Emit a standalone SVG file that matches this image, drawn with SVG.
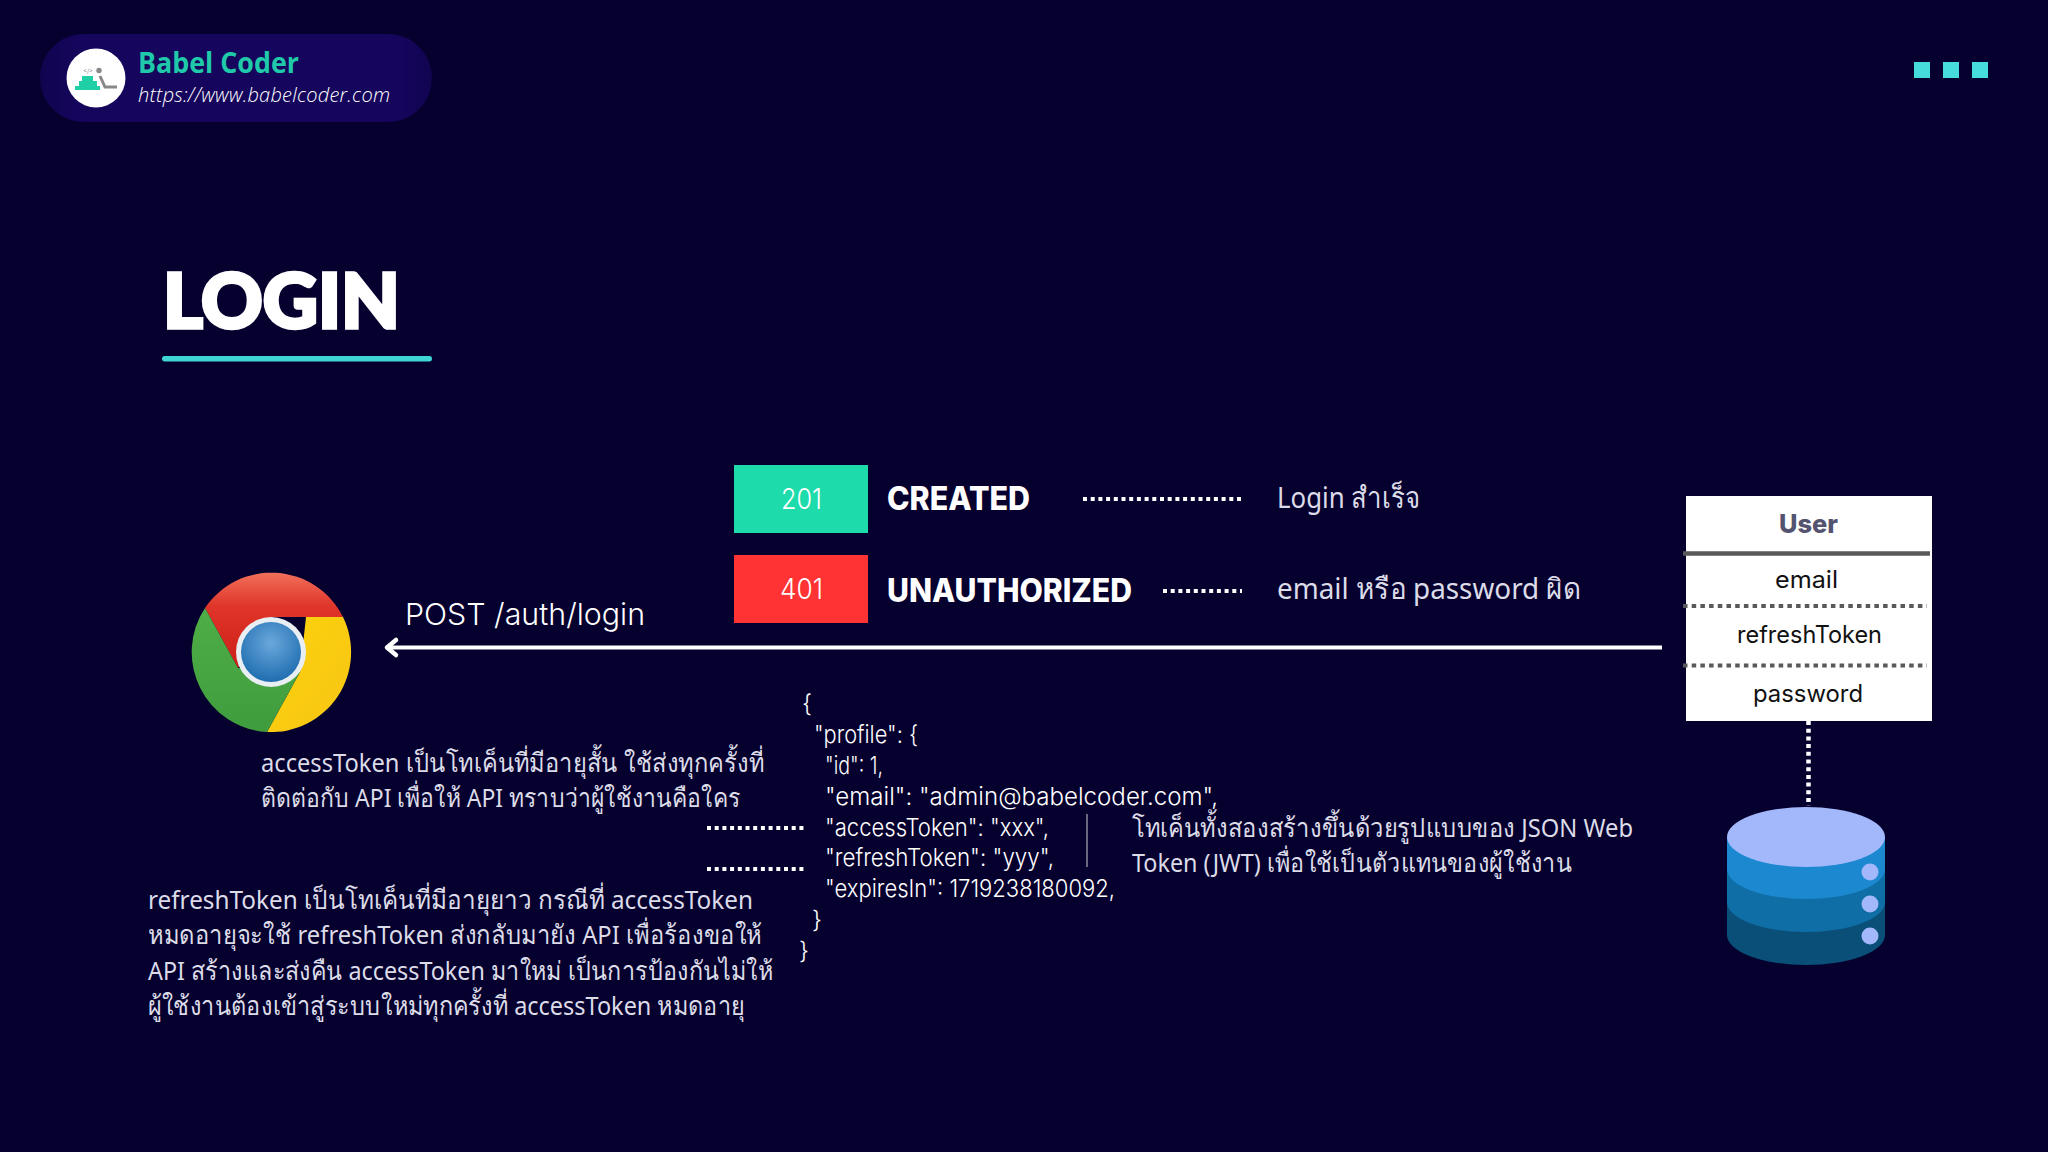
<svg xmlns="http://www.w3.org/2000/svg" width="2048" height="1152" viewBox="0 0 2048 1152">
<style>
text{font-family:"Inter","Noto Sans","Liberation Sans",sans-serif;fill:#fff}
.th{font-family:"Noto Sans","Open Sans","DejaVu Sans",sans-serif;font-size:26px;font-weight:400;fill:#dcdce8}
.js{font-size:24px;font-weight:300}
.st{font-weight:800;font-size:32px}
.code{font-size:28px;font-weight:300}
.tb{font-size:24px;font-weight:400;fill:#111}
.dot{stroke:#fff;stroke-width:4;stroke-dasharray:4 3.7;fill:none}
.tdot{stroke:#595959;stroke-width:4;stroke-dasharray:4.5 4.2;fill:none}
.sq{fill:#46dcdc}
</style>
<defs>
<radialGradient id="gb" cx=".5" cy=".35" r=".65"><stop offset="0" stop-color="#6aa8dc"/><stop offset="1" stop-color="#1f6db0"/></radialGradient>
<linearGradient id="gr" x1="0" y1="0" x2="0" y2="1"><stop offset="0" stop-color="#f0705a"/><stop offset=".35" stop-color="#e0352a"/><stop offset="1" stop-color="#cc1f18"/></linearGradient>
<linearGradient id="gy" x1="0" y1="0" x2="1" y2="1"><stop offset="0" stop-color="#fdd20a"/><stop offset="1" stop-color="#f7c516"/></linearGradient>
<linearGradient id="gg" x1="0" y1="0" x2="0" y2="1"><stop offset="0" stop-color="#4fae47"/><stop offset="1" stop-color="#3f9c3d"/></linearGradient>
<linearGradient id="gp" x1="0" y1="0" x2="1" y2="0"><stop offset="0" stop-color="#100450"/><stop offset=".1" stop-color="#15055c"/><stop offset=".92" stop-color="#15055c"/><stop offset="1" stop-color="#110450"/></linearGradient>
</defs>
<rect width="2048" height="1152" fill="#06002e"/>
<g id="badge">
<rect x="40" y="34" width="392" height="88" rx="44" fill="url(#gp)"/>
<circle cx="96" cy="78" r="29.5" fill="#fff"/>
<text x="88" y="73" font-size="6" text-anchor="middle" style="fill:#888">&lt;/&gt;</text>
<path d="M82 76h11v5h-11zM79 81h18v5h-18zM75 86h25v4h-25z" fill="#1fcfa5"/>
<circle cx="99" cy="70.500" r="2.700" fill="#888"/>
<path d="M100 76l5 11h12" fill="none" stroke="#888" stroke-width="3"/>
<text x="138" y="72.500" font-size="28" font-weight="700" textLength="161" lengthAdjust="spacingAndGlyphs" style="font-family:'Open Sans','Noto Sans',sans-serif;fill:#1fc9a9">Babel Coder</text>
<text x="138" y="102" font-size="20" font-style="italic" font-weight="300" textLength="252" style="font-family:'Open Sans','Noto Sans',sans-serif">https://www.babelcoder.com</text>
</g>
<g id="dots"><rect class="sq" x="1914" y="62" width="16" height="16"/><rect class="sq" x="1943" y="62" width="16" height="16"/><rect class="sq" x="1972" y="62" width="16" height="16"/></g>
<g id="title">
<text x="163" y="328" font-size="76" font-weight="900" textLength="237" lengthAdjust="spacingAndGlyphs" stroke="#fff" stroke-width="3.500" style="font-family:Lato,Inter,sans-serif">LOGIN</text>
<rect x="162" y="356" width="270" height="5.500" rx="2.700" fill="#3fd6d6"/>
</g>
<g id="browser">
<path d="M343 617A80 80 0 0 1 267 732L300 672L306 617Z" fill="url(#gy)"/>
<path d="M205 608A80 80 0 0 1 343 617H271L238 668Z" fill="url(#gr)"/>
<path d="M205 608A80 80 0 0 0 267 732L300 672L238 668Z" fill="url(#gg)"/>
<circle cx="271" cy="652" r="35" fill="#e8eef2"/>
<circle cx="271" cy="652" r="30" fill="url(#gb)"/>
</g>
<g id="connectors">
<path d="M1662 647.500H390" stroke="#fff" stroke-width="4" fill="none"/>
<path d="M396 640L387 647.500L396 655" stroke="#fff" stroke-width="4.500" fill="none" stroke-linecap="round" stroke-linejoin="round"/>
<path class="dot" d="M1083 499H1242"/>
<path class="dot" d="M1163 591H1242"/>
<path class="dot" d="M707 828H804"/>
<path class="dot" d="M707 869H804"/>
<path class="dot" d="M1808.500 721V806" stroke-dasharray="5 4.500" style="stroke-width:4.500"/>
<path d="M1087 814V867" stroke="#8a8a9a" stroke-width="1.500"/>
</g>
<text x="405" y="625" font-size="30" font-weight="300" textLength="240" lengthAdjust="spacingAndGlyphs">POST /auth/login</text>
<g id="status-201">
<rect x="734" y="465" width="134" height="68" fill="#1ddbaa"/>
<text class="code" x="781" y="509" textLength="41" lengthAdjust="spacingAndGlyphs">201</text>
<text class="st" x="887" y="510" textLength="143" lengthAdjust="spacingAndGlyphs">CREATED</text>
<text class="th" x="1277" y="508" style="font-size:29px" textLength="143" lengthAdjust="spacingAndGlyphs">Login สำเร็จ</text>
</g>
<g id="status-401">
<rect x="734" y="555" width="134" height="68" fill="#ff3333"/>
<text class="code" x="780" y="599" textLength="43" lengthAdjust="spacingAndGlyphs">401</text>
<text class="st" x="887" y="602" textLength="245" lengthAdjust="spacingAndGlyphs">UNAUTHORIZED</text>
<text class="th" x="1277" y="599" style="font-size:29px" textLength="304" lengthAdjust="spacingAndGlyphs">email หรือ password ผิด</text>
</g>
<g id="user-table">
<rect x="1686" y="496" width="246" height="225" fill="#fff"/>
<text x="1779" y="533" font-size="26" font-weight="800" textLength="59" lengthAdjust="spacingAndGlyphs" style="fill:#545470">User</text>
<path d="M1683 553.500H1930" stroke="#595959" stroke-width="4.500"/>
<text class="tb" x="1775" y="588" textLength="63" lengthAdjust="spacingAndGlyphs">email</text>
<path class="tdot" d="M1683 606H1927"/>
<text class="tb" x="1737" y="643" textLength="145" lengthAdjust="spacingAndGlyphs">refreshToken</text>
<path class="tdot" d="M1683 665.500H1927"/>
<text class="tb" x="1753" y="702" textLength="110" lengthAdjust="spacingAndGlyphs">password</text>
</g>
<g id="database">
<path d="M1727 837V935A79 30 0 0 0 1885 935V837Z" fill="#0a4f78"/>
<path d="M1727 837V902A79 30 0 0 0 1885 902V837Z" fill="#0f6ea5"/>
<path d="M1727 837V869A79 30 0 0 0 1885 869V837Z" fill="#1c88d0"/>
<ellipse cx="1806" cy="837" rx="79" ry="30" fill="#a3b8fb"/>
<circle cx="1870" cy="872" r="8.500" fill="#a3b8fb"/><circle cx="1870" cy="904" r="8.500" fill="#a3b8fb"/><circle cx="1870" cy="936" r="8.500" fill="#a3b8fb"/>
</g>
<g id="access-note">
<text class="th" x="261" y="772" textLength="503" lengthAdjust="spacingAndGlyphs">accessToken เป็นโทเค็นที่มีอายุสั้น ใช้ส่งทุกครั้งที่</text>
<text class="th" x="261" y="807" textLength="479" lengthAdjust="spacingAndGlyphs">ติดต่อกับ API เพื่อให้ API ทราบว่าผู้ใช้งานคือใคร</text>
</g>
<g id="refresh-note">
<text class="th" x="148" y="909" textLength="605" lengthAdjust="spacingAndGlyphs">refreshToken เป็นโทเค็นที่มีอายุยาว กรณีที่ accessToken</text>
<text class="th" x="148" y="944" textLength="614" lengthAdjust="spacingAndGlyphs">หมดอายุจะใช้ refreshToken ส่งกลับมายัง API เพื่อร้องขอให้</text>
<text class="th" x="148" y="980" textLength="625" lengthAdjust="spacingAndGlyphs">API สร้างและส่งคืน accessToken มาใหม่ เป็นการป้องกันไม่ให้</text>
<text class="th" x="148" y="1015" textLength="597" lengthAdjust="spacingAndGlyphs">ผู้ใช้งานต้องเข้าสู่ระบบใหม่ทุกครั้งที่ accessToken หมดอายุ</text>
</g>
<g id="json">
<text class="js" x="802" y="712">{</text>
<text class="js" x="814" y="743" textLength="104" lengthAdjust="spacingAndGlyphs">"profile": {</text>
<text class="js" x="825" y="774" textLength="58" lengthAdjust="spacingAndGlyphs">"id": 1,</text>
<text class="js" x="825" y="805" textLength="393" lengthAdjust="spacingAndGlyphs">"email": "admin@babelcoder.com",</text>
<text class="js" x="825" y="836" textLength="224" lengthAdjust="spacingAndGlyphs">"accessToken": "xxx",</text>
<text class="js" x="825" y="866" textLength="229" lengthAdjust="spacingAndGlyphs">"refreshToken": "yyy",</text>
<text class="js" x="825" y="897" textLength="290" lengthAdjust="spacingAndGlyphs">"expiresIn": 1719238180092,</text>
<text class="js" x="812" y="928">}</text>
<text class="js" x="799" y="959">}</text>
</g>
<g id="jwt-note">
<text class="th" x="1132" y="837" textLength="501" lengthAdjust="spacingAndGlyphs">โทเค็นทั้งสองสร้างขึ้นด้วยรูปแบบของ JSON Web</text>
<text class="th" x="1132" y="872" textLength="440" lengthAdjust="spacingAndGlyphs">Token (JWT) เพื่อใช้เป็นตัวแทนของผู้ใช้งาน</text>
</g>
</svg>
